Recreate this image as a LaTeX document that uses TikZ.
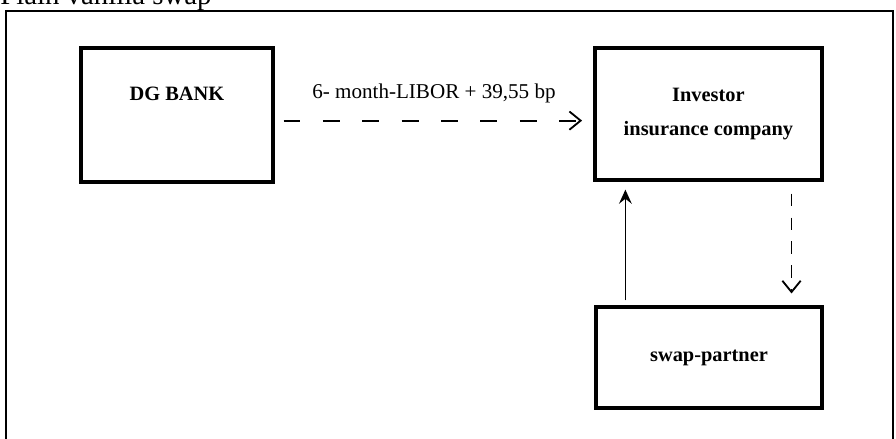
\documentclass[tikz,border=0pt]{standalone}
\usepackage{fontspec}
\setmainfont{Liberation Serif}
\usetikzlibrary{positioning, calc, arrows.meta}

\begin{document}
\begin{tikzpicture}[
    party/.style={draw, line width=2.3pt, inner sep=0pt, align=center,
        font=\fontsize{14.5}{24}\selectfont\bfseries},
    partyname/.style={inner sep=0pt, font=\fontsize{14.5}{24}\selectfont\bfseries},
    flow/.style={line width=1.3pt, -{Straight Barb[length=8pt,width=13pt,line width=1.3pt]}},
]
    \useasboundingbox (0,0) rectangle (22.4,-10.975);
    \clip (0,0) rectangle (22.4,-10.975);

    % heading, cut off by the page edge
    \node[anchor=base west, inner sep=0pt, font=\fontsize{20.5}{24}\selectfont] (title) at (0,-0.12) {Plain vanilla swap};

    % frame, runs off the bottom
    \draw[line width=1.8pt] (0.15,-11.5) -- (0.15,-0.275) -- (22.325,-0.275) -- (22.325,-11.5);

    \node[party, minimum width=4.8cm, minimum height=3.35cm] (dg) at (4.425,-2.875) {};
    \node[partyname] (dgname) at ($(dg.north)+(0,-1.19)$) {DG BANK};

    \node[party, minimum width=5.675cm, minimum height=3.3cm] (inv) at (17.71,-2.85) {Investor\\insurance company};
    \node[party, minimum width=5.65cm, minimum height=2.525cm] (swap) at (17.725,-8.94) {swap-partner};

    \draw[flow, dash pattern=on 12pt off 16pt, shorten <=0.225cm, shorten >=0.28cm]
        ([yshift=-4pt]dg.east) -- ([yshift=-4pt]dg.east -| inv.west)
        node[midway, anchor=base, yshift=15.6pt, font=\fontsize{15}{18}\selectfont] (rate) {6- month-LIBOR + 39,55 bp};

    \draw[line width=1.2pt, -{Stealth[length=10pt,width=9pt,inset=3.5pt]}, shorten <=0.125cm, shorten >=0.2cm]
        ([xshift=0.775cm]swap.north west) -- ([xshift=0.775cm]swap.north west |- inv.south);
    \draw[flow, dash pattern=on 9pt off 8pt, shorten <=0.3cm, shorten >=0.3cm]
        ([xshift=-0.8cm]inv.south east) -- ([xshift=-0.8cm]inv.south east |- swap.north);
\end{tikzpicture}
\end{document}
